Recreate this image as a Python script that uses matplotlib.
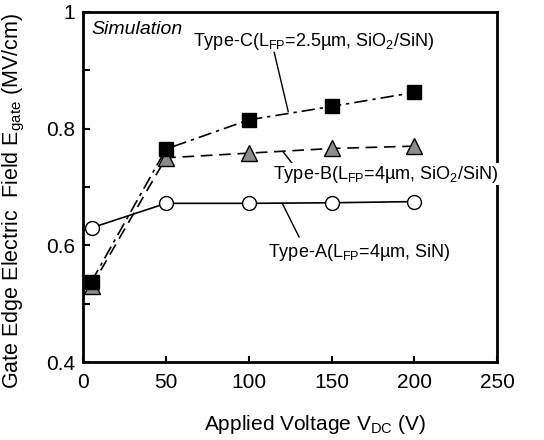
import matplotlib
matplotlib.use('Agg')
import matplotlib.pyplot as plt
from matplotlib.ticker import MultipleLocator

plt.rcParams['font.family'] = ['Liberation Sans', 'DejaVu Sans']
plt.rcParams['mathtext.fontset'] = 'custom'
plt.rcParams['mathtext.rm'] = 'Liberation Sans'
plt.rcParams['mathtext.it'] = 'Liberation Sans:italic'

# data
v_dc = [5, 50, 100, 150, 200]
type_a = [0.630, 0.672, 0.672, 0.673, 0.675]
type_b = [0.530, 0.750, 0.758, 0.766, 0.770]
type_c = [0.538, 0.765, 0.815, 0.838, 0.862]

label_a = r'Type-A(L$_{\rm FP}$=4µm, SiN)'
label_b = r'Type-B(L$_{\rm FP}$=4µm, SiO$_2$/SiN)'
label_c = r'Type-C(L$_{\rm FP}$=2.5µm, SiO$_2$/SiN)'

fig = plt.figure(figsize=(5.44, 4.4), dpi=100)
ax = fig.add_axes([0.153, 0.177, 0.761, 0.796])

ax.plot(v_dc, type_a, '-', color='black', lw=1.2, marker='o', ms=10,
        mfc='white', mec='black', mew=1, zorder=3)
ax.plot(v_dc, type_b, '--', color='black', lw=1.2, dashes=(7, 4), marker='^', ms=11,
        mfc='#8c8c8c', mec='black', mew=1, zorder=4)
ax.plot(v_dc, type_c, '-.', color='black', lw=1.2, dashes=(8, 3, 2, 3), marker='s', ms=10.5,
        mfc='black', mec='black', zorder=5)

ax.set_xlim(0, 250)
ax.set_ylim(0.4, 1.0)
ax.xaxis.set_major_locator(MultipleLocator(50))
ax.yaxis.set_minor_locator(MultipleLocator(0.1))
ax.set_yticks([0.4, 0.6, 0.8, 1.0])
ax.set_yticklabels(['0.4', '0.6', '0.8', '1'])
ax.tick_params(axis='y', which='both', direction='in', length=5, width=1.5, labelsize=15, pad=6)
ax.tick_params(axis='x', which='both', direction='in', length=4, width=1.5, labelsize=15, pad=8)
for s in ax.spines.values():
    s.set_linewidth(2)

ax.set_xlabel(r'Applied Voltage V$_{\rm DC}$ (V)', fontsize=15, labelpad=14)
ax.xaxis.set_label_coords(0.56, -0.145)
ax.set_ylabel(r'Gate Edge Electric  Field E$_{\rm gate}$ (MV/cm)', fontsize=15.5)
ax.yaxis.set_label_coords(-0.135, 0.46)

ax.text(0.02, 0.975, 'Simulation', transform=ax.transAxes, fontsize=14,
        style='italic', va='top', ha='left')

# labels
ax.text(66.4, 0.950, label_c, fontsize=13, va='center', ha='left')
ax.text(114.7, 0.722, label_b, fontsize=13, va='center', ha='left', zorder=6,
        bbox=dict(facecolor='white', edgecolor='none', pad=0.5), clip_on=False)
ax.text(111.7, 0.588, label_a, fontsize=13, va='center', ha='left')

# leader lines
leader = dict(arrowstyle='-', color='black', lw=1, shrinkA=0, shrinkB=0)
ax.annotate('', xy=(123.8, 0.829), xytext=(115.3, 0.931), arrowprops=leader)
ax.annotate('', xy=(120.8, 0.760), xytext=(127.4, 0.736), arrowprops=leader)
ax.annotate('', xy=(120.2, 0.672), xytext=(130.4, 0.614), arrowprops=leader)

fig.savefig('out.png', dpi=100)
